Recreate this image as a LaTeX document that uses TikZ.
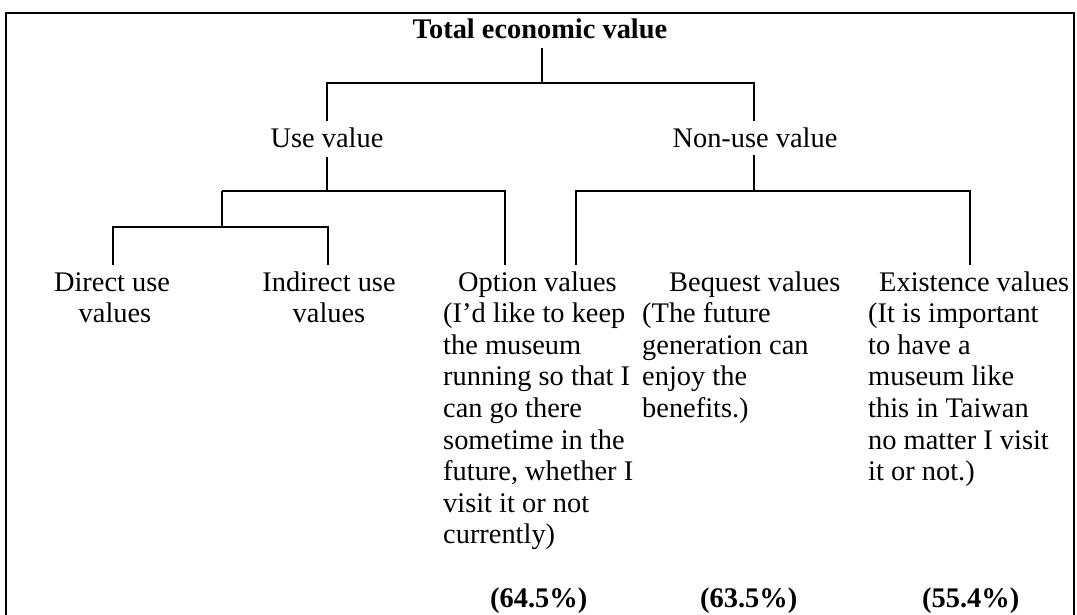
\documentclass[tikz,border=0pt]{standalone}
\usepackage{fontspec}
\setmainfont{Liberation Serif}
\tikzset{
  lbl/.style={inner sep=0pt, anchor=base west, font=\fontsize{28.4}{31.6}\selectfont},
  lblc/.style={lbl, anchor=base},
  conn/.style={line width=2pt, line cap=butt, line join=miter},
  frame/.style={line width=2.2pt}
}
\begin{document}
\begin{tikzpicture}[x=1pt,y=-1pt]
\useasboundingbox (0,0) rectangle (1077,615);
% frame (open at bottom)
\coordinate (fbl) at (6,615);
\coordinate (ftl) at (6,13);
\coordinate (ftr) at (1074,13);
\coordinate (fbr) at (1074,615);
\draw[frame] (fbl) -- (ftl) -- (ftr) -- (fbr);

% level 0 and 1 labels
\node[lblc] (tev) at (540,39) {\textbf{Total economic value}};
\node[lblc] (use) at (327,148) {Use value};
\node[lblc] (nonuse) at (755,148) {Non-use value};

% level 2 labels
\node[lblc] (dir1) at (112,291) {Direct use};
\node[lblc] (dir2) at (115,322.6) {values};
\node[lblc] (ind1) at (329,291) {Indirect use};
\node[lblc] (ind2) at (329,322.6) {values};

\node[lbl] (opt0) at (458,291) {Option values};
\foreach \t [count=\i] in {{(I’d like to keep},{the museum},{running so that I},{can go there},{sometime in the},{future, whether I},{visit it or not},{currently)}}
  \node[lbl] (opt\i) at (443,291+31.6*\i) {\t};
\node[lbl] (optp) at (490,607) {\textbf{(64.5\%)}};

\node[lbl] (beq0) at (669,291) {Bequest values};
\foreach \t [count=\i] in {{(The future},{generation can},{enjoy the},{benefits.)}}
  \node[lbl] (beq\i) at (642,291+31.6*\i) {\t};
\node[lbl] (beqp) at (700,607) {\textbf{(63.5\%)}};

\node[lbl] (ex0) at (879,291) {Existence values};
\foreach \t [count=\i] in {{(It is important},{to have a},{museum like},{this in Taiwan},{no matter I visit},{it or not.)}}
  \node[lbl] (ex\i) at (868,291+31.6*\i) {\t};
\node[lbl] (exp) at (922,607) {\textbf{(55.4\%)}};

% connector coordinates
\coordinate (tevb) at (542,48);
\coordinate (j0) at (542,83);
\coordinate (j0l) at (327,83);
\coordinate (j0r) at (754,83);
\coordinate (uset) at (327,121);
\coordinate (nont) at (754,121);
\coordinate (useb) at (327,157);
\coordinate (ju) at (327,191);
\coordinate (jul) at (222,191);
\coordinate (jur) at (505,191);
\coordinate (optt) at (505,265);
\coordinate (jd) at (222,227);
\coordinate (jdl) at (113,227);
\coordinate (jdr) at (328,227);
\coordinate (dirt) at (113,265);
\coordinate (indt) at (328,265);
\coordinate (nonb) at (754,155);
\coordinate (jn) at (754,191);
\coordinate (jnl) at (576,191);
\coordinate (jnr) at (970,191);
\coordinate (beqt) at (576,265);
\coordinate (ext) at (970,265);

\draw[conn] (tevb) -- (j0);
\draw[conn] (uset) -- (j0l) -- (j0r) -- (nont);
\draw[conn] (useb) -- (ju);
\draw[conn] (jul) -- (jur) -- (optt);
\draw[conn] (jul) -- (jd);
\draw[conn] (dirt) -- (jdl) -- (jdr) -- (indt);
\draw[conn] (nonb) -- (jn);
\draw[conn] (beqt) -- (jnl) -- (jnr) -- (ext);
\end{tikzpicture}
\end{document}
